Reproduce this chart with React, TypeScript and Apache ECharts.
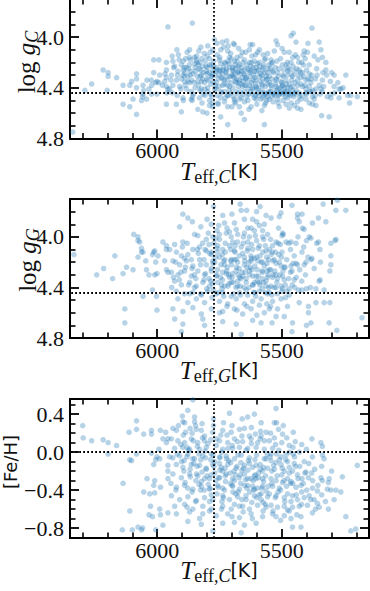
import { useEffect, useRef } from "react";
import * as echarts from "echarts";

// ---------- axis ranges & ticks ----------
const teffRange = [5150, 6350];
const loggRange = [3.7, 4.8];
const fehRange = [-0.905, 0.56];
const teffMajorTicks = [6000, 5500];
const teffMinorTicks = [6300, 6200, 6100, 5900, 5800, 5700, 5600, 5400, 5300, 5200];
const loggMajorTicks = [4.0, 4.4, 4.8];
const loggMinorTicks = [3.8, 3.9, 4.1, 4.2, 4.3, 4.5, 4.6, 4.7];
const fehMajorTicks = [-0.8, -0.4, 0.0, 0.4];
const fehMinorTicks = [-0.7, -0.6, -0.5, -0.3, -0.2, -0.1, 0.1, 0.2, 0.3, 0.5];

// ---------- reference (solar) values ----------
const solarTeff = 5772;
const solarLogg = 4.438;
const solarFeh = 0.0;

// ---------- panel 1: Teff_C vs log g_C ----------
const loggCHot: number[][] = [
  [6339, 4.75], [6290, 4.42], [6263, 4.37], [6217, 4.26], [6201, 4.42], [6197, 4.28], [6197, 4.31], [6163, 4.32],
  [6137, 4.38], [6137, 4.53], [6110, 4.38], [6110, 4.55], [6103, 4.35], [6097, 4.49], [6083, 4.29], [6083, 4.33],
  [6083, 4.40], [6083, 4.61], [6063, 4.50], [6059, 4.47], [6057, 4.38], [6057, 4.45], [6054, 4.42], [6043, 4.49],
  [6041, 4.34], [6033, 4.41], [6023, 4.34], [6023, 4.45], [6022, 4.38], [6014, 4.18], [6014, 4.28], [6006, 4.36],
  [6001, 4.35], [6001, 4.45], [5993, 4.18], [5993, 4.36], [5990, 4.30], [5979, 4.38], [5970, 4.35], [5969, 4.29],
  [5963, 4.20], [5963, 4.26], [5963, 4.32], [5963, 4.39], [5963, 4.53], [5961, 4.44], [5957, 3.92], [5957, 4.41],
];
const loggCMid: number[][] = [
  [5859, 3.89], [5739, 4.04], [5721, 4.03], [5694, 4.05], [5627, 4.06], [5617, 4.06], [5797, 4.07], [5777, 4.10],
  [5787, 4.12], [5921, 4.10], [5833, 4.11], [5717, 4.11], [5673, 4.09], [5659, 4.12], [5597, 4.12], [5557, 4.13],
  [5937, 4.19], [5886, 4.17], [5870, 4.16], [5850, 4.16], [5843, 4.18], [5930, 4.23], [5903, 4.22], [5883, 4.24],
  [5917, 4.27], [5943, 4.30], [5897, 4.30], [5877, 4.31], [5923, 4.34], [5890, 4.35], [5937, 4.38], [5910, 4.39],
  [5870, 4.36], [5950, 4.41], [5830, 4.20], [5817, 4.23], [5790, 4.22], [5777, 4.26], [5803, 4.27], [5823, 4.30],
  [5783, 4.31], [5837, 4.35], [5810, 4.36], [5777, 4.35], [5797, 4.40], [5823, 4.41], [5763, 4.41], [5750, 4.18],
  [5730, 4.20], [5710, 4.16], [5690, 4.19], [5670, 4.22], [5650, 4.18], [5630, 4.20], [5610, 4.19], [5590, 4.20],
  [5570, 4.18], [5552, 4.22], [5750, 4.26], [5723, 4.27], [5697, 4.24], [5677, 4.28], [5650, 4.26], [5623, 4.27],
  [5603, 4.24], [5577, 4.26], [5557, 4.28], [5743, 4.32], [5717, 4.34], [5697, 4.31], [5670, 4.34], [5643, 4.32],
  [5617, 4.34], [5590, 4.31], [5563, 4.34], [5737, 4.38], [5710, 4.39], [5683, 4.36], [5657, 4.39], [5630, 4.38],
  [5603, 4.39], [5577, 4.38], [5730, 4.43], [5703, 4.44], [5677, 4.45], [5650, 4.43], [5617, 4.45], [5583, 4.44],
  [5557, 4.47], [5923, 4.53], [5897, 4.48], [5863, 4.49], [5837, 4.57], [5903, 4.59], [5817, 4.59], [5790, 4.54],
  [5777, 4.55], [5757, 4.52], [5717, 4.55], [5690, 4.49], [5670, 4.55], [5623, 4.55], [5603, 4.49], [5663, 4.60],
  [5570, 4.54], [5717, 4.69], [5570, 4.69],
  [5912, 4.18], [5895, 4.26], [5871, 4.22], [5856, 4.29], [5848, 4.24], [5839, 4.31], [5826, 4.26], [5808, 4.19],
  [5801, 4.33], [5792, 4.28], [5785, 4.37], [5774, 4.23], [5768, 4.30], [5759, 4.26], [5752, 4.39], [5745, 4.21],
  [5738, 4.29], [5731, 4.34], [5722, 4.25], [5716, 4.19], [5708, 4.31], [5702, 4.36], [5694, 4.27], [5688, 4.22],
  [5681, 4.33], [5674, 4.39], [5668, 4.29], [5661, 4.24], [5655, 4.35], [5648, 4.30], [5641, 4.22], [5636, 4.41],
  [5629, 4.28], [5622, 4.36], [5615, 4.24], [5608, 4.32], [5601, 4.27], [5594, 4.40], [5587, 4.35], [5580, 4.30],
  [5573, 4.22], [5566, 4.39], [5559, 4.33], [5553, 4.43], [5905, 4.41], [5888, 4.38], [5864, 4.43], [5852, 4.36],
  [5829, 4.42], [5815, 4.45], [5797, 4.43], [5781, 4.47], [5770, 4.41], [5760, 4.46], [5742, 4.44], [5727, 4.48],
  [5712, 4.42], [5695, 4.47], [5684, 4.43], [5670, 4.49], [5657, 4.45], [5640, 4.47], [5626, 4.43], [5611, 4.48],
  [5598, 4.44], [5584, 4.49], [5571, 4.46], [5560, 4.50], [5880, 4.12], [5842, 4.15], [5811, 4.13], [5760, 4.14],
  [5733, 4.08], [5705, 4.13], [5680, 4.16], [5645, 4.12], [5620, 4.15], [5590, 4.10], [5575, 4.14], [5860, 4.50],
  [5820, 4.52], [5790, 4.50], [5755, 4.53], [5730, 4.51], [5700, 4.55], [5685, 4.52], [5650, 4.51], [5632, 4.57],
  [5600, 4.53], [5580, 4.58], [5565, 4.52], [5770, 4.02], [5760, 4.05], [5690, 4.06], [5800, 4.60], [5745, 4.63],
  [5650, 4.65], [5798, 4.24], [5782, 4.31], [5763, 4.36], [5747, 4.27], [5735, 4.24], [5718, 4.38], [5701, 4.30],
  [5686, 4.35], [5672, 4.27], [5659, 4.32], [5643, 4.38], [5631, 4.26], [5618, 4.40], [5605, 4.37], [5593, 4.26],
  [5580, 4.42], [5569, 4.28], [5556, 4.37], [5822, 4.35], [5835, 4.22], [5848, 4.40], [5866, 4.27], [5877, 4.35],
  [5891, 4.31], [5919, 4.30], [5934, 4.24], [5945, 4.34], [5940, 4.44],
  [5903, 4.33], [5896, 4.19], [5889, 4.28], [5882, 4.41], [5874, 4.25], [5867, 4.18], [5861, 4.34], [5855, 4.45],
  [5846, 4.27], [5840, 4.20], [5834, 4.38], [5828, 4.31], [5821, 4.17], [5815, 4.28], [5809, 4.41], [5804, 4.23],
  [5797, 4.34], [5790, 4.17], [5786, 4.45], [5779, 4.29], [5773, 4.19], [5767, 4.38], [5761, 4.24], [5755, 4.33],
  [5749, 4.16], [5744, 4.43], [5737, 4.26], [5731, 4.37], [5726, 4.21], [5720, 4.31], [5714, 4.46], [5709, 4.24],
  [5703, 4.17], [5697, 4.40], [5691, 4.32], [5685, 4.25], [5679, 4.19], [5673, 4.36], [5667, 4.43], [5662, 4.27],
  [5656, 4.20], [5650, 4.38], [5645, 4.33], [5639, 4.25], [5633, 4.45], [5627, 4.31], [5622, 4.20], [5616, 4.41],
  [5610, 4.27], [5604, 4.34], [5598, 4.21], [5592, 4.46], [5586, 4.29], [5580, 4.37], [5574, 4.24], [5568, 4.44],
  [5562, 4.31], [5556, 4.25], [5892, 4.24], [5868, 4.30], [5851, 4.21], [5832, 4.25], [5818, 4.33], [5800, 4.29],
  [5782, 4.22], [5766, 4.27], [5752, 4.30], [5736, 4.33], [5724, 4.28], [5711, 4.21], [5699, 4.26], [5688, 4.29],
  [5675, 4.23], [5664, 4.37], [5652, 4.29], [5638, 4.34], [5624, 4.23], [5612, 4.30], [5600, 4.41], [5588, 4.23],
  [5576, 4.33], [5564, 4.45], [5920, 4.46], [5895, 4.50], [5858, 4.47], [5830, 4.48], [5808, 4.46], [5778, 4.52],
  [5746, 4.48], [5718, 4.46], [5690, 4.51], [5662, 4.48], [5636, 4.50], [5606, 4.46], [5576, 4.48], [5940, 4.15],
  [5915, 4.14], [5870, 4.10], [5825, 4.08], [5800, 4.15], [5745, 4.10], [5715, 4.07], [5665, 4.15], [5630, 4.10],
  [5605, 4.14], [5565, 4.17],
];
const loggCCool: number[][] = [
  [5379, 3.93], [5454, 3.97], [5463, 3.99], [5443, 4.04], [5350, 4.04], [5523, 4.03], [5517, 4.06], [5530, 4.11],
  [5499, 4.09], [5490, 4.12], [5543, 4.18], [5537, 4.20], [5446, 4.14], [5437, 4.16], [5410, 4.11], [5397, 4.12],
  [5406, 4.17], [5343, 4.10], [5337, 4.16], [5323, 4.20], [5463, 4.20], [5483, 4.22], [5470, 4.26], [5450, 4.27],
  [5430, 4.26], [5417, 4.28], [5390, 4.29], [5423, 4.32], [5457, 4.31], [5477, 4.30], [5497, 4.30], [5517, 4.28],
  [5537, 4.27], [5550, 4.31], [5523, 4.34], [5503, 4.35], [5483, 4.34], [5437, 4.34], [5403, 4.34], [5383, 4.33],
  [5337, 4.34], [5323, 4.26], [5290, 4.30], [5243, 4.30], [5543, 4.38], [5523, 4.39], [5497, 4.38], [5477, 4.40],
  [5457, 4.39], [5437, 4.38], [5417, 4.39], [5403, 4.41], [5390, 4.39], [5363, 4.41], [5343, 4.41], [5263, 4.41],
  [5550, 4.44], [5530, 4.44], [5510, 4.45], [5490, 4.44], [5470, 4.44], [5450, 4.45], [5430, 4.47], [5403, 4.44],
  [5383, 4.43], [5337, 4.43], [5303, 4.45], [5270, 4.41], [5550, 4.49], [5517, 4.49], [5477, 4.48], [5463, 4.52],
  [5437, 4.51], [5423, 4.49], [5403, 4.49], [5377, 4.47], [5370, 4.49], [5303, 4.48], [5223, 4.46], [5197, 4.47],
  [5510, 4.55], [5483, 4.53], [5470, 4.56], [5450, 4.54], [5437, 4.56], [5423, 4.57], [5390, 4.52], [5377, 4.53],
  [5363, 4.54], [5340, 4.62], [5310, 4.63], [5228, 4.52], [5275, 4.36], [5300, 4.28], [5320, 4.30], [5355, 4.18],
  [5370, 4.15], [5395, 4.05], [5420, 4.20], [5470, 4.12], [5505, 4.17], [5526, 4.24], [5290, 4.39], [5545, 4.43],
  [5533, 4.45], [5521, 4.42], [5512, 4.46], [5502, 4.43], [5494, 4.45], [5486, 4.47], [5478, 4.43], [5466, 4.46],
  [5458, 4.42], [5447, 4.44], [5539, 4.47], [5508, 4.40], [5489, 4.40], [5525, 4.37], [5500, 4.36], [5470, 4.37],
  [5460, 4.34], [5540, 4.33], [5515, 4.31], [5492, 4.26], [5475, 4.24], [5455, 4.23], [5440, 4.25], [5425, 4.28],
  [5412, 4.31], [5400, 4.26], [5380, 4.30], [5365, 4.33], [5350, 4.38], [5545, 4.25], [5535, 4.51], [5515, 4.52],
  [5495, 4.50],
  [5548, 4.36], [5541, 4.40], [5534, 4.28], [5528, 4.46], [5522, 4.33], [5516, 4.41], [5511, 4.25], [5505, 4.44],
  [5499, 4.39], [5493, 4.31], [5488, 4.43], [5482, 4.37], [5476, 4.27], [5471, 4.45], [5465, 4.40], [5459, 4.30],
  [5453, 4.47], [5447, 4.36], [5442, 4.42], [5436, 4.30], [5430, 4.44], [5424, 4.37], [5418, 4.46], [5413, 4.22],
  [5407, 4.38], [5401, 4.45], [5395, 4.33], [5389, 4.43], [5383, 4.36], [5375, 4.42], [5366, 4.46], [5358, 4.30],
  [5346, 4.45], [5332, 4.39], [5318, 4.47], [5305, 4.35], [5288, 4.44], [5270, 4.48], [5254, 4.40], [5236, 4.46],
  [5542, 4.21], [5520, 4.19], [5498, 4.22], [5478, 4.20], [5456, 4.16], [5432, 4.20], [5414, 4.14], [5390, 4.22],
  [5360, 4.25], [5335, 4.28],
];

// ---------- panel 2: Teff_G vs log g_G ----------
const loggGHot: number[][] = [
  [6334, 4.14], [6243, 4.30], [6179, 4.33], [6170, 4.15], [6137, 4.29], [6123, 4.24], [6097, 4.26], [6094, 3.98],
  [6077, 4.00], [6077, 4.03], [6070, 4.04], [6063, 4.09], [6063, 4.12], [6057, 4.12], [6077, 4.16], [6046, 4.19],
  [6043, 4.26], [6033, 4.30], [6019, 4.14], [6014, 4.12], [6010, 4.11], [5997, 4.15], [6006, 4.20], [6001, 4.29],
  [6010, 4.30], [5977, 4.04], [5963, 4.07], [5963, 4.10], [5970, 4.19], [5963, 4.26], [5957, 4.28], [6019, 4.42],
  [6057, 4.47], [6003, 4.47], [6130, 4.57], [6001, 4.58], [6130, 4.68], [6215, 4.25],
];
const loggGMid: number[][] = [
  [5774, 3.76], [5897, 3.82], [5877, 3.85], [5859, 3.88], [5910, 3.92], [5667, 3.74], [5663, 3.79], [5641, 3.79],
  [5601, 3.80], [5587, 3.76], [5563, 3.83], [5737, 3.83], [5753, 3.91], [5730, 3.89], [5690, 3.89], [5617, 3.86],
  [5601, 3.88], [5637, 3.93], [5623, 3.93], [5590, 3.91], [5570, 3.90], [5577, 3.95], [5683, 3.94], [5783, 3.90],
  [5850, 3.98], [5837, 3.99], [5897, 4.04], [5930, 4.06], [5803, 4.02], [5777, 4.00], [5750, 3.98], [5723, 3.97],
  [5703, 4.00], [5677, 3.98], [5650, 3.97], [5630, 4.00], [5606, 3.99], [5577, 4.00], [5557, 3.98],
  [5950, 4.10], [5923, 4.12], [5903, 4.15], [5877, 4.14], [5857, 4.10], [5830, 4.08], [5803, 4.11], [5783, 4.14],
  [5757, 4.07], [5737, 4.10], [5710, 4.07], [5690, 4.11], [5663, 4.08], [5637, 4.04], [5617, 4.10], [5590, 4.07],
  [5563, 4.11], [5937, 4.19], [5910, 4.22], [5883, 4.19], [5857, 4.23], [5830, 4.18], [5803, 4.22], [5777, 4.19],
  [5750, 4.16], [5730, 4.22], [5703, 4.18], [5677, 4.20], [5650, 4.16], [5623, 4.19], [5601, 4.16], [5577, 4.20],
  [5553, 4.18], [5943, 4.28], [5917, 4.30], [5890, 4.27], [5863, 4.31], [5837, 4.27], [5810, 4.30], [5783, 4.27],
  [5763, 4.31], [5737, 4.28], [5710, 4.32], [5683, 4.27], [5657, 4.31], [5630, 4.27], [5603, 4.31], [5577, 4.28],
  [5557, 4.32], [5930, 4.35], [5903, 4.38], [5870, 4.36], [5843, 4.39], [5817, 4.36], [5790, 4.39], [5757, 4.36],
  [5730, 4.39], [5703, 4.36], [5677, 4.39], [5643, 4.36], [5617, 4.38], [5590, 4.36], [5563, 4.39], [5923, 4.43],
  [5890, 4.45], [5857, 4.44], [5823, 4.46], [5797, 4.43], [5763, 4.45], [5737, 4.44], [5703, 4.47], [5670, 4.44],
  [5637, 4.46], [5610, 4.44], [5583, 4.49], [5557, 4.45], [5917, 4.49], [5877, 4.52], [5843, 4.49], [5810, 4.52],
  [5750, 4.51], [5717, 4.53], [5683, 4.49], [5650, 4.53], [5617, 4.51], [5590, 4.54], [5937, 4.57], [5897, 4.59],
  [5857, 4.56], [5823, 4.61], [5783, 4.57], [5737, 4.59], [5690, 4.57], [5657, 4.61], [5623, 4.57], [5570, 4.60],
  [5930, 4.65], [5897, 4.69], [5817, 4.65], [5810, 4.70], [5737, 4.67], [5683, 4.69], [5663, 4.77], [5617, 4.66],
  [5583, 4.68], [5903, 4.75],
  [5792, 4.06], [5781, 4.12], [5769, 4.20], [5758, 4.26], [5746, 4.32], [5739, 4.14], [5727, 4.05], [5719, 4.24],
  [5712, 4.37], [5705, 4.10], [5698, 4.29], [5691, 4.18], [5684, 4.40], [5678, 4.04], [5671, 4.25], [5664, 4.33],
  [5657, 4.13], [5650, 4.22], [5643, 4.42], [5636, 4.09], [5629, 4.30], [5622, 4.17], [5615, 4.38], [5608, 4.23],
  [5601, 4.03], [5594, 4.31], [5587, 4.15], [5580, 4.27], [5573, 4.36], [5566, 4.07], [5559, 4.21], [5552, 4.40],
  [5812, 4.34], [5826, 4.22], [5839, 4.10], [5851, 4.30], [5863, 4.18], [5874, 4.38], [5887, 4.24], [5899, 4.08],
  [5911, 4.34], [5926, 4.20], [5942, 4.40], [5775, 4.42], [5760, 4.09], [5740, 4.41], [5722, 4.29], [5702, 4.22],
  [5688, 4.12], [5667, 4.39], [5647, 4.28], [5632, 4.20], [5612, 4.44], [5598, 4.35], [5576, 4.12], [5560, 4.27],
  [5785, 4.35], [5765, 4.01], [5733, 4.19], [5695, 4.36], [5676, 4.30], [5655, 4.05], [5620, 4.26], [5590, 4.43],
  [5570, 4.23],
  [5818, 4.05], [5812, 4.18], [5806, 4.29], [5801, 4.41], [5795, 3.97], [5789, 4.13], [5783, 4.25], [5778, 4.37],
  [5772, 4.05], [5766, 4.16], [5761, 4.30], [5755, 4.44], [5750, 4.02], [5744, 4.22], [5738, 4.34], [5733, 4.47],
  [5727, 4.12], [5721, 4.27], [5716, 4.39], [5710, 3.96], [5705, 4.19], [5699, 4.32], [5693, 4.45], [5688, 4.07],
  [5682, 4.24], [5677, 4.35], [5671, 4.15], [5666, 4.46], [5660, 4.28], [5654, 4.00], [5649, 4.19], [5643, 4.33],
  [5638, 4.11], [5632, 4.40], [5627, 4.24], [5621, 4.06], [5616, 4.31], [5610, 4.17], [5605, 4.47], [5599, 4.26],
  [5594, 4.09], [5588, 4.38], [5583, 4.20], [5577, 4.33], [5572, 4.02], [5566, 4.44], [5561, 4.16], [5555, 4.30],
  [5808, 4.10], [5792, 4.33], [5776, 4.21], [5758, 4.12], [5742, 4.38], [5729, 4.18], [5713, 4.30], [5697, 4.04],
  [5684, 4.18], [5669, 4.32], [5652, 4.40], [5640, 4.24], [5624, 4.15], [5609, 4.36], [5596, 4.19], [5579, 4.41],
  [5563, 4.35], [5860, 4.25], [5845, 4.33], [5880, 4.05], [5905, 4.28], [5870, 4.45], [5835, 4.13], [5890, 4.17],
  [5850, 4.40], [5825, 4.45], [5935, 4.32], [5700, 3.82], [5650, 3.86], [5720, 3.93], [5760, 3.95], [5610, 3.95],
  [5800, 3.86], [5825, 3.92], [5680, 4.58], [5750, 4.60], [5640, 4.55], [5600, 4.62], [5780, 4.48], [5720, 4.55],
  [5560, 4.53],
];
const loggGCool: number[][] = [
  [5459, 3.75], [5334, 3.74], [5283, 3.79], [5277, 3.71], [5503, 3.81], [5510, 3.84], [5543, 3.85], [5437, 3.82],
  [5419, 3.82], [5437, 3.85], [5430, 3.88], [5377, 3.89], [5353, 3.85], [5323, 3.88], [5417, 3.93], [5410, 3.94],
  [5513, 3.93], [5497, 3.97], [5499, 3.99], [5390, 4.00], [5383, 4.01], [5483, 4.04], [5463, 4.04], [5443, 4.05],
  [5401, 4.03], [5353, 4.04], [5303, 4.05], [5283, 4.02], [5523, 4.04], [5537, 4.07], [5550, 4.10], [5499, 4.12],
  [5419, 4.12], [5347, 4.10], [5543, 4.14], [5530, 4.18], [5510, 4.20], [5503, 4.23], [5490, 4.24], [5463, 4.23],
  [5443, 4.21], [5437, 4.22], [5410, 4.22], [5403, 4.20], [5383, 4.18], [5379, 4.17], [5303, 4.15], [5459, 4.27],
  [5450, 4.34], [5523, 4.30], [5537, 4.32], [5517, 4.33], [5497, 4.31], [5490, 4.34], [5550, 4.26], [5350, 4.35],
  [5307, 4.27], [5303, 4.22], [5543, 4.39], [5523, 4.40], [5503, 4.39], [5497, 4.41], [5470, 4.41], [5433, 4.42],
  [5419, 4.42], [5401, 4.41], [5363, 4.41], [5550, 4.44], [5503, 4.49], [5537, 4.51], [5477, 4.55], [5430, 4.52],
  [5393, 4.55], [5363, 4.52], [5330, 4.52], [5307, 4.52], [5550, 4.57], [5517, 4.57], [5523, 4.63], [5490, 4.63],
  [5393, 4.60], [5539, 4.68], [5457, 4.68], [5401, 4.70], [5383, 4.68], [5310, 4.68], [5459, 4.75], [5279, 4.74],
  [5178, 4.64], [5243, 3.79], [5286, 4.03], [5346, 4.34],
  [5545, 4.02], [5535, 4.19], [5528, 4.27], [5520, 4.36], [5512, 4.14], [5506, 4.06], [5495, 4.27], [5486, 4.38],
  [5480, 4.18], [5472, 4.33], [5465, 4.10], [5455, 4.21], [5448, 4.40], [5540, 4.46], [5518, 4.45], [5500, 4.43],
  [5485, 4.48], [5545, 4.55], [5535, 4.30], [5470, 4.46], [5525, 4.12],
  [5545, 4.26], [5538, 4.12], [5530, 4.40], [5522, 4.21], [5515, 4.05], [5508, 4.30], [5501, 4.16], [5494, 3.98],
  [5487, 4.24], [5480, 4.43], [5472, 4.05], [5465, 4.28], [5458, 4.38], [5450, 4.15], [5442, 4.32], [5435, 4.00],
  [5428, 4.26], [5420, 4.35], [5412, 4.08], [5405, 4.30], [5395, 4.16], [5385, 4.40], [5370, 4.25], [5360, 4.05],
  [5345, 4.20], [5330, 4.42],
];

// ---------- panel 3: Teff_C vs [Fe/H] ----------
const fehHot: number[][] = [
  [6299, 0.28], [6297, 0.15], [6263, 0.12], [6217, 0.13], [6197, 0.10], [6163, 0.07], [6083, 0.33], [6113, 0.21],
  [6083, 0.24], [6054, 0.19], [6023, 0.23], [6023, 0.19], [5987, 0.23], [5966, 0.21], [5977, 0.14], [5963, 0.10],
  [5957, 0.14], [5993, 0.03], [6023, -0.01], [6001, -0.05], [6006, -0.08], [5990, -0.07], [6014, -0.13], [5957, -0.14],
  [6110, -0.08], [6103, -0.09], [6197, -0.02], [6083, -0.02], [5957, -0.20], [5957, -0.28], [6041, -0.28], [6010, -0.30],
  [6014, -0.35], [6137, -0.33], [5987, -0.37], [6054, -0.42], [6030, -0.44], [6010, -0.43], [6027, -0.57], [6110, -0.62],
  [5990, -0.60], [6033, -0.66], [6019, -0.68], [5987, -0.66], [5957, -0.64], [6140, -0.82], [6100, -0.82], [6077, -0.79],
  [6063, -0.82], [6059, -0.80], [6006, -0.82], [5977, -0.77],
];
const fehMid: number[][] = [
  [5857, 0.55], [5877, 0.44], [5899, 0.38], [5897, 0.32], [5890, 0.31], [5850, 0.37], [5850, 0.32], [5846, 0.28],
  [5774, 0.35], [5774, 0.28], [5710, 0.41], [5734, 0.31], [5659, 0.35], [5637, 0.37], [5610, 0.40], [5583, 0.31],
  [5937, 0.25], [5923, 0.23], [5886, 0.21], [5843, 0.24], [5823, 0.23], [5810, 0.17], [5777, 0.21], [5737, 0.23],
  [5703, 0.21], [5670, 0.24], [5650, 0.25], [5630, 0.17], [5606, 0.19], [5583, 0.17], [5563, 0.21], [5943, 0.14],
  [5917, 0.12], [5890, 0.10], [5863, 0.14], [5837, 0.10], [5810, 0.12], [5750, 0.12], [5717, 0.10], [5690, 0.14],
  [5657, 0.11], [5623, 0.14], [5597, 0.10], [5570, 0.12], [5930, 0.04], [5897, 0.05], [5870, 0.03], [5830, 0.03],
  [5803, 0.05], [5763, 0.07], [5737, 0.03], [5697, 0.04], [5670, 0.05], [5637, 0.04], [5603, 0.05], [5570, 0.03],
  [5937, -0.06], [5910, -0.04], [5877, -0.02], [5850, -0.07], [5817, -0.04], [5783, -0.02], [5750, -0.06], [5723, -0.04],
  [5690, -0.07], [5663, -0.03], [5630, -0.06], [5601, -0.03], [5570, -0.07], [5923, -0.13], [5897, -0.16], [5863, -0.13],
  [5830, -0.14], [5803, -0.18], [5777, -0.13], [5743, -0.16], [5717, -0.13], [5683, -0.17], [5650, -0.14], [5617, -0.16],
  [5587, -0.13], [5557, -0.17], [5937, -0.23], [5903, -0.27], [5870, -0.23], [5837, -0.25], [5810, -0.28], [5783, -0.24],
  [5750, -0.27], [5723, -0.23], [5697, -0.28], [5667, -0.24], [5637, -0.28], [5606, -0.24], [5577, -0.28], [5923, -0.37],
  [5890, -0.35], [5857, -0.39], [5823, -0.36], [5790, -0.39], [5757, -0.35], [5730, -0.40], [5697, -0.36], [5670, -0.39],
  [5637, -0.35], [5610, -0.39], [5577, -0.36], [5943, -0.46], [5910, -0.50], [5877, -0.47], [5843, -0.51], [5810, -0.48],
  [5777, -0.50], [5737, -0.46], [5710, -0.50], [5677, -0.47], [5643, -0.50], [5610, -0.46], [5583, -0.50], [5557, -0.47],
  [5930, -0.57], [5890, -0.55], [5857, -0.60], [5817, -0.57], [5783, -0.60], [5737, -0.57], [5703, -0.60], [5670, -0.57],
  [5630, -0.60], [5597, -0.56], [5563, -0.58], [5923, -0.65], [5870, -0.63], [5817, -0.65], [5763, -0.67], [5717, -0.65],
  [5670, -0.69], [5623, -0.65], [5577, -0.68], [5877, -0.73], [5823, -0.76], [5737, -0.75], [5690, -0.74], [5650, -0.77],
  [5603, -0.75], [5777, -0.83], [5663, -0.85],
  [5920, -0.02], [5905, 0.08], [5892, -0.09], [5880, 0.05], [5868, -0.18], [5855, 0.12], [5845, -0.30], [5832, -0.02],
  [5820, -0.21], [5808, 0.01], [5795, -0.34], [5785, -0.08], [5772, -0.15], [5760, -0.44], [5748, -0.05], [5738, -0.20],
  [5726, -0.31], [5716, 0.04], [5705, -0.11], [5696, -0.42], [5686, -0.24], [5676, -0.03], [5665, -0.33], [5654, -0.17],
  [5644, -0.46], [5634, -0.09], [5624, -0.28], [5613, -0.40], [5603, -0.14], [5593, -0.22], [5583, -0.44], [5573, -0.31],
  [5563, -0.07], [5555, -0.36], [5860, -0.42], [5840, -0.15], [5826, -0.40], [5800, -0.25], [5790, -0.52], [5765, -0.30],
  [5750, -0.12], [5740, -0.52], [5728, -0.17], [5700, -0.35], [5690, -0.55], [5680, -0.15], [5660, -0.50], [5650, -0.23],
  [5640, -0.38], [5620, -0.53], [5610, -0.25], [5598, -0.38], [5586, -0.18], [5575, -0.53], [5565, -0.25],
  [5902, -0.10], [5895, 0.18], [5888, -0.32], [5881, -0.05], [5874, 0.02], [5867, -0.26], [5860, 0.20], [5853, -0.12],
  [5846, -0.52], [5839, 0.06], [5832, -0.34], [5825, -0.08], [5818, 0.15], [5811, -0.40], [5804, -0.17], [5797, 0.09],
  [5790, -0.28], [5783, -0.45], [5776, -0.03], [5769, -0.22], [5762, 0.14], [5755, -0.37], [5748, -0.19], [5741, 0.00],
  [5734, -0.48], [5727, -0.25], [5720, 0.18], [5713, -0.09], [5706, -0.33], [5699, 0.07], [5692, -0.20], [5685, -0.44],
  [5678, 0.11], [5671, -0.27], [5664, -0.11], [5657, -0.57], [5650, -0.35], [5643, 0.02], [5636, -0.19], [5629, -0.42],
  [5622, 0.09], [5615, -0.30], [5608, -0.08], [5601, -0.48], [5594, -0.27], [5587, 0.14], [5580, -0.38], [5573, -0.16],
  [5566, -0.55], [5559, -0.02], [5893, -0.20], [5877, -0.38], [5858, -0.07], [5842, -0.23], [5823, -0.31], [5806, -0.06],
  [5788, -0.38], [5770, -0.10], [5753, -0.27], [5737, -0.38], [5722, -0.07], [5707, -0.22], [5690, -0.30], [5675, -0.42],
  [5660, -0.19], [5646, -0.29], [5630, -0.12], [5617, -0.36], [5604, -0.28], [5590, -0.45], [5577, -0.20], [5563, -0.41],
  [5915, 0.28], [5868, 0.25], [5820, 0.30], [5785, 0.13], [5745, 0.18], [5700, 0.28], [5660, 0.17], [5622, 0.26],
  [5585, 0.22], [5925, -0.40], [5880, -0.58], [5830, -0.70], [5790, -0.62], [5742, -0.60], [5700, -0.68], [5655, -0.63],
  [5618, -0.70], [5575, -0.62], [5950, -0.05], [5945, -0.33],
];
const fehCool: number[][] = [
  [5523, 0.46], [5530, 0.31], [5521, 0.31], [5494, 0.28], [5513, 0.24], [5497, 0.19], [5454, 0.21], [5379, 0.14],
  [5343, 0.10], [5337, 0.06], [5550, 0.12], [5446, 0.11], [5470, 0.07], [5537, 0.04], [5401, 0.03], [5543, -0.02],
  [5521, -0.02], [5503, -0.05], [5483, -0.03], [5470, 0.00], [5454, -0.02], [5430, 0.00], [5377, -0.05], [5337, -0.03],
  [5330, -0.07], [5197, -0.14], [5543, -0.09], [5523, -0.11], [5503, -0.13], [5477, -0.10], [5450, -0.12], [5530, -0.18],
  [5490, -0.20], [5470, -0.16], [5457, -0.20], [5403, -0.21], [5437, -0.24], [5419, -0.28], [5393, -0.27], [5343, -0.27],
  [5337, -0.30], [5313, -0.32], [5257, -0.26], [5543, -0.28], [5523, -0.30], [5497, -0.32], [5477, -0.28], [5463, -0.31],
  [5537, -0.36], [5510, -0.38], [5481, -0.36], [5443, -0.37], [5423, -0.35], [5377, -0.38], [5357, -0.41], [5317, -0.39],
  [5303, -0.40], [5263, -0.42], [5550, -0.44], [5523, -0.46], [5490, -0.48], [5457, -0.46], [5437, -0.50], [5410, -0.48],
  [5390, -0.46], [5370, -0.50], [5290, -0.50], [5543, -0.56], [5517, -0.58], [5490, -0.57], [5477, -0.61], [5457, -0.58],
  [5430, -0.57], [5397, -0.56], [5357, -0.54], [5350, -0.58], [5313, -0.60], [5537, -0.65], [5523, -0.68], [5490, -0.67],
  [5463, -0.70], [5423, -0.68], [5377, -0.64], [5243, -0.68], [5457, -0.79], [5423, -0.79], [5223, -0.83], [5203, -0.81],
  [5283, -0.40], [5540, -0.20], [5515, -0.42], [5500, -0.24], [5488, -0.52], [5465, -0.33], [5445, -0.15], [5420, -0.42],
  [5410, -0.10], [5380, -0.22], [5365, -0.60], [5340, -0.45], [5300, -0.20], [5530, 0.15], [5510, -0.08],
  [5547, -0.05], [5540, -0.33], [5533, -0.14], [5526, -0.48], [5519, -0.25], [5512, 0.02], [5505, -0.40], [5498, -0.17],
  [5491, -0.30], [5484, -0.08], [5477, -0.44], [5470, -0.22], [5463, -0.52], [5456, -0.33], [5449, -0.05], [5442, -0.45],
  [5435, -0.28], [5428, -0.15], [5421, -0.55], [5414, -0.33], [5407, -0.22], [5400, -0.40], [5392, -0.12], [5384, -0.50],
  [5376, -0.30], [5368, -0.18], [5355, -0.35], [5340, -0.15], [5325, -0.52], [5310, -0.28], [5545, 0.20], [5525, 0.08],
  [5500, 0.10], [5480, 0.15], [5455, 0.05], [5420, 0.08], [5535, -0.62], [5505, -0.72], [5470, -0.62], [5440, -0.66],
];

const loggCPoints = [...loggCHot, ...loggCMid, ...loggCCool];
const loggGPoints = [...loggGHot, ...loggGMid, ...loggGCool];
const fehPoints = [...fehHot, ...fehMid, ...fehCool];

// ---------- axis titles (rich text) ----------
const xTitles = ["{t|T}{s|eff,}{si|C}{k|[K]}", "{t|T}{s|eff,}{si|G}{k|[K]}", "{t|T}{s|eff,}{si|C}{k|[K]}"];
const yTitles = ["{r|log }{i|g}{si|C}", "{r|log }{i|g}{si|G}", "{f|[Fe/H]}"];

// ---------- styling ----------
const serif = "'Liberation Serif', 'Times New Roman', serif";
const sans = "'DejaVu Sans', 'Noto Sans', sans-serif";
const ink = "#111111";
const dotColor = "rgba(31, 119, 180, 0.4)";

const tok = (o: any) => ({ color: ink, fill: ink, lineHeight: 28, ...o });
const nameRich: any = {
  t: tok({ fontFamily: serif, fontStyle: "italic", fontSize: 25 }),
  r: tok({ fontFamily: serif, fontSize: 25 }),
  i: tok({ fontFamily: serif, fontStyle: "italic", fontSize: 25 }),
  s: tok({ fontFamily: serif, fontSize: 18, padding: [12, 0, 0, 0] }),
  si: tok({ fontFamily: serif, fontStyle: "italic", fontSize: 18, padding: [12, 0, 0, 0] }),
  k: tok({ fontFamily: sans, fontSize: 19 }),
  f: tok({ fontFamily: sans, fontSize: 18, lineHeight: 18 }),
};

const grids = [
  { left: 70, top: -1, width: 299, height: 139.5, outerBoundsMode: "none", containLabel: false },
  { left: 70, top: 199, width: 299, height: 139, outerBoundsMode: "none", containLabel: false },
  { left: 70, top: 399, width: 299, height: 139, outerBoundsMode: "none", containLabel: false },
];
// title anchor centres (layout only)
const xTitlePos = [[219, 171], [219, 370], [219, 570]];
const yTitlePos = [[26, 62], [27, 260], [10, 462]];

const fmt1 = (v: number) => (v < -1e-9 ? "\u2212" : "") + Math.abs(v).toFixed(1);
const fmt0 = (v: number) => String(Math.round(v));

function axisSet(
  kind: "x" | "y",
  gridIndex: number,
  range: number[],
  major: number[],
  minor: number[],
  formatter: (v: number) => string,
  inverse: boolean
) {
  const positions = kind === "x" ? ["bottom", "top"] : ["left", "right"];
  const base = {
    type: "value",
    gridIndex,
    min: range[0],
    max: range[1],
    inverse,
    splitLine: { show: false },
    scale: true,
  };
  const out: any[] = [];
  positions.forEach((pos, pi) => {
    out.push({
      ...base,
      position: pos,
      axisLine: { show: true, onZero: false, lineStyle: { color: "#000", width: 2 } },
      axisTick: { show: true, inside: true, length: 9, lineStyle: { color: "#000", width: 1.8 }, customValues: major },
      axisLabel:
        pi === 0
          ? { show: true, customValues: major, formatter, fontFamily: serif, fontSize: 22, color: ink, margin: kind === "x" ? 1 : 6 }
          : { show: false },
    });
    out.push({
      ...base,
      position: pos,
      axisLine: { show: false, onZero: false },
      axisTick: { show: true, inside: true, length: 5.5, lineStyle: { color: "#000", width: 1.6 }, customValues: minor },
      axisLabel: { show: false },
    });
  });
  return out;
}

const panels = [
  { data: loggCPoints, yRange: loggRange, yMajor: loggMajorTicks, yMinor: loggMinorTicks, yInverse: true, hLine: solarLogg },
  { data: loggGPoints, yRange: loggRange, yMajor: loggMajorTicks, yMinor: loggMinorTicks, yInverse: true, hLine: solarLogg },
  { data: fehPoints, yRange: fehRange, yMajor: fehMajorTicks, yMinor: fehMinorTicks, yInverse: false, hLine: solarFeh },
];

function buildOption() {
  const xAxis: any[] = [];
  const yAxis: any[] = [];
  const series: any[] = [];
  panels.forEach((p, gi) => {
    const xStart = xAxis.length;
    const yStart = yAxis.length;
    xAxis.push(...axisSet("x", gi, teffRange, teffMajorTicks, teffMinorTicks, fmt0, true));
    yAxis.push(...axisSet("y", gi, p.yRange, p.yMajor, p.yMinor, fmt1, p.yInverse));
    series.push({
      type: "scatter",
      xAxisIndex: xStart,
      yAxisIndex: yStart,
      data: p.data,
      symbol: "circle",
      symbolSize: 5.6,
      itemStyle: { color: dotColor, borderWidth: 0 },
      clip: true,
      silent: true,
      markLine: {
        silent: true,
        symbol: ["none", "none"],
        label: { show: false },
        lineStyle: { color: "#000", width: 1.8, type: [1.8, 2.2], opacity: 1 },
        emphasis: { disabled: true },
        data: [{ xAxis: solarTeff }, { yAxis: p.hLine }],
      },
    });
  });
  const graphic: any[] = [];
  xTitles.forEach((t, i) => {
    graphic.push({
      type: "text",
      x: xTitlePos[i][0],
      y: xTitlePos[i][1],
      silent: true,
      style: { text: t, rich: nameRich, align: "center", verticalAlign: "middle", fill: ink },
    });
  });
  yTitles.forEach((t, i) => {
    graphic.push({
      type: "text",
      x: yTitlePos[i][0],
      y: yTitlePos[i][1],
      rotation: Math.PI / 2,
      silent: true,
      style: { text: t, rich: nameRich, align: "center", verticalAlign: "middle", fill: ink },
    });
  });
  return {
    animation: false,
    backgroundColor: "#ffffff",
    grid: grids,
    xAxis,
    yAxis,
    series,
    graphic,
  };
}

export default function App() {
  const ref = useRef<HTMLDivElement>(null);
  useEffect(() => {
    document.body.style.margin = "0";
    const chart = echarts.init(ref.current!, null, { renderer: "svg" });
    chart.setOption(buildOption() as any);
    return () => chart.dispose();
  }, []);
  return <div ref={ref} style={{ width: 370, height: 591 }} />;
}
